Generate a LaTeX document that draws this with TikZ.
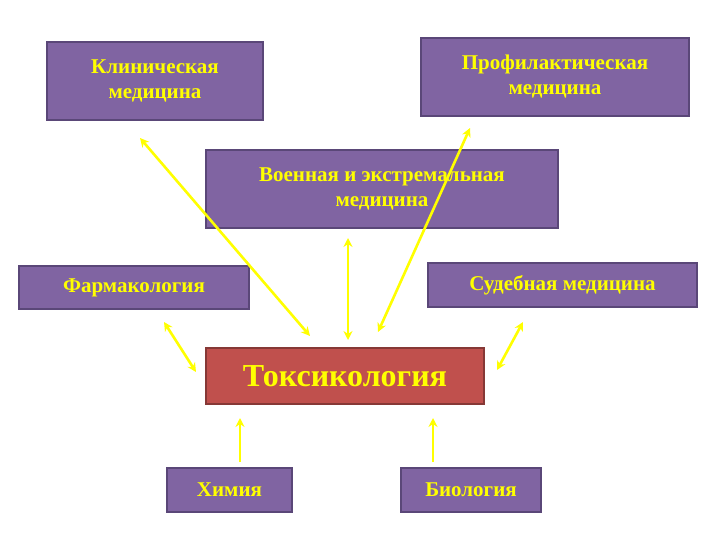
\documentclass[tikz,border=0pt]{standalone}
\usepackage{fontspec}
\setmainfont{Liberation Serif}
\usetikzlibrary{arrows.meta}
\definecolor{boxp}{HTML}{8064A2}
\definecolor{boxr}{HTML}{C0504D}
\definecolor{edge}{HTML}{5A4778}
\definecolor{ylw}{HTML}{FFFF00}
\begin{document}
\begin{tikzpicture}[x=1pt,y=-1pt,
  box/.style={draw=edge,line width=1.2pt,fill=boxp,text=ylw,font=\bfseries\fontsize{21}{25}\selectfont,align=center,inner sep=0pt},
  arr/.style={draw=ylw,line width=2.6pt,-{Stealth[length=9pt,width=9pt]}},
  darr/.style={draw=ylw,line width=2.6pt,{Stealth[length=9pt,width=9pt]}-{Stealth[length=9pt,width=9pt]}}]
\useasboundingbox (0,0) rectangle (720,540);
\node[box,minimum width=216pt,minimum height=78pt] (kl) at (155,81) {Клиническая\\медицина};
\node[box,minimum width=268pt,minimum height=78pt] (pr) at (555,77) {Профилактическая\\медицина};
\node[box,minimum width=352pt,minimum height=78pt] (vo) at (382,189) {Военная и экстремальная\\медицина};
\node[box,minimum width=230pt,minimum height=43pt] (fa) at (134,287.5) {Фармакология};
\node[box,minimum width=269pt,minimum height=44pt] (su) at (562.5,285) {Судебная медицина};
\node[box,fill=boxr,draw=boxr!70!black,minimum width=278pt,minimum height=56pt,font=\bfseries\fontsize{32}{36}\selectfont] (to) at (345,376) {Токсикология};
\node[box,minimum width=125pt,minimum height=44pt] (ch) at (229.5,490) {Химия};
\node[box,minimum width=140pt,minimum height=44pt] (bi) at (471,490) {Биология};
\coordinate (a1) at (140,138); \coordinate (a2) at (310,336);
\coordinate (b1) at (470,128); \coordinate (b2) at (378,332);
\coordinate (c1) at (348,238); \coordinate (c2) at (348,340);
\coordinate (d1) at (164,322); \coordinate (d2) at (196,372);
\coordinate (e1) at (523,322); \coordinate (e2) at (497,370);
\coordinate (f1) at (240,462); \coordinate (f2) at (240,418);
\coordinate (g1) at (433,462); \coordinate (g2) at (433,418);
\draw[darr] (a1) -- (a2);
\draw[darr] (b1) -- (b2);
\draw[darr] (c1) -- (c2);
\draw[darr] (d1) -- (d2);
\draw[darr] (e1) -- (e2);
\draw[arr] (f1) -- (f2);
\draw[arr] (g1) -- (g2);
\end{tikzpicture}
\end{document}
